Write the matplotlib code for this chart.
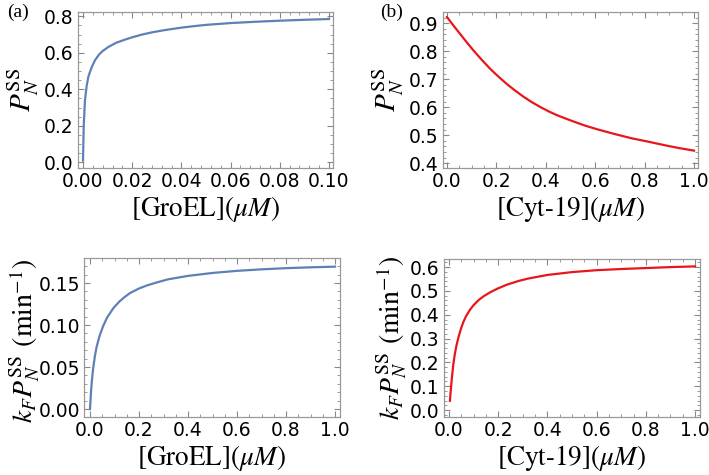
import matplotlib
matplotlib.use("Agg")
import matplotlib.pyplot as plt
from matplotlib.ticker import MultipleLocator, FormatStrFormatter

plt.rcParams['mathtext.fontset'] = 'stix'
plt.rcParams['font.family'] = 'DejaVu Sans'

# (a) top: P_N^SS vs [GroEL]
groel_p_x = [0.0, 0.0003, 0.0008, 0.0015, 0.0022, 0.0035, 0.0049, 0.0065, 0.008, 0.0103,
             0.0135, 0.017, 0.02, 0.024, 0.028, 0.033, 0.04, 0.045, 0.05, 0.06,
             0.07, 0.08, 0.09, 0.1]
groel_p_y = [0.01, 0.2, 0.34, 0.42, 0.47, 0.52, 0.56, 0.59, 0.61, 0.632,
             0.655, 0.672, 0.685, 0.70, 0.712, 0.724, 0.738, 0.746, 0.753, 0.763,
             0.770, 0.776, 0.781, 0.785]

# (b) top: P_N^SS vs [Cyt-19]
cyt_p_x = [0.0, 0.026, 0.053, 0.08, 0.107, 0.14, 0.174, 0.2, 0.242, 0.275, 0.309, 0.34,
           0.377, 0.41, 0.444, 0.5, 0.56, 0.613, 0.68, 0.748, 0.82, 0.883, 0.94, 1.0]
cyt_p_y = [0.922, 0.892, 0.862, 0.832, 0.803, 0.770, 0.738, 0.716, 0.683, 0.660, 0.638, 0.620,
           0.601, 0.586, 0.572, 0.553, 0.534, 0.520, 0.504, 0.489, 0.476, 0.464, 0.454, 0.445]

# (a) bottom: k_F P_N^SS vs [GroEL]
groel_k_x = [0.0, 0.004, 0.008, 0.0136, 0.02, 0.027, 0.04, 0.054, 0.07, 0.095, 0.12, 0.14,
             0.163, 0.2, 0.231, 0.27, 0.32, 0.4, 0.5, 0.6, 0.7, 0.8, 0.9, 1.0]
groel_k_y = [0.0, 0.02, 0.035, 0.05, 0.063, 0.074, 0.088, 0.099, 0.109, 0.12, 0.128, 0.133,
             0.138, 0.1435, 0.147, 0.1505, 0.1545, 0.1585, 0.162, 0.1645, 0.1663, 0.1677,
             0.1687, 0.1695]

# (b) bottom: k_F P_N^SS vs [Cyt-19]
cyt_k_x = [0.004, 0.008, 0.0125, 0.0175, 0.024, 0.031, 0.04, 0.05, 0.058, 0.07, 0.085,
           0.099, 0.12, 0.14, 0.167, 0.2, 0.235, 0.28, 0.322, 0.4, 0.5, 0.6, 0.7, 0.8,
           0.9, 1.0]
cyt_k_y = [0.039, 0.09, 0.14, 0.189, 0.235, 0.273, 0.31, 0.345, 0.368, 0.395, 0.42,
           0.439, 0.461, 0.477, 0.494, 0.511, 0.526, 0.541, 0.552, 0.567, 0.579, 0.587,
           0.592, 0.596, 0.600, 0.603]

blue = '#5E81B5'
red = '#E8161B'
W, H = 709, 475

fig = plt.figure(figsize=(W / 100, H / 100), dpi=100)


def make_ax(x0, y0, x1, y1):
    return fig.add_axes([x0 / W, 1 - y1 / H, (x1 - x0) / W, (y1 - y0) / H])


def style(ax, xmaj, xmin, ymaj, ymin, xfmt, yfmt):
    ax.xaxis.set_major_locator(MultipleLocator(xmaj))
    ax.xaxis.set_minor_locator(MultipleLocator(xmin))
    ax.yaxis.set_major_locator(MultipleLocator(ymaj))
    ax.yaxis.set_minor_locator(MultipleLocator(ymin))
    ax.xaxis.set_major_formatter(FormatStrFormatter(xfmt))
    ax.yaxis.set_major_formatter(FormatStrFormatter(yfmt))
    ax.tick_params(which='both', direction='in', top=True, right=True,
                   color='#888888', labelsize=13.5, labelcolor='black', pad=3)
    ax.tick_params(which='major', length=4, width=0.8)
    ax.tick_params(which='minor', length=2, width=0.6)
    for s in ax.spines.values():
        s.set_color('#999999')
        s.set_linewidth(0.9)


xlab_groel = r'$[\mathrm{GroEL}](\mu M)$'
xlab_cyt = r'$[\mathrm{Cyt\text{-}19}](\mu M)$'
ylab_p = r'$P_N^{\mathrm{SS}}$'
ylab_k = r'$k_F P_N^{\mathrm{SS}}\;\,(\mathrm{min}^{-1})$'
xl_size = 19.5

ax = make_ax(78, 12, 333, 168)
ax.plot(groel_p_x, groel_p_y, color=blue, lw=1.6)
ax.set_xlim(-0.00203, 0.10163)
ax.set_ylim(-0.031, 0.8236)
style(ax, 0.02, 0.004, 0.2, 0.05, '%.2f', '%.1f')
ax.set_xlabel(xlab_groel, fontsize=xl_size, labelpad=2)
ax.set_ylabel(ylab_p, fontsize=21, labelpad=2)

ax = make_ax(443, 12, 698, 168)
ax.plot(cyt_p_x, cyt_p_y, color=red, lw=1.6)
ax.set_xlim(-0.016, 1.016)
ax.set_ylim(0.383, 0.940)
style(ax, 0.2, 0.05, 0.1, 0.02, '%.1f', '%.1f')
ax.set_xlabel(xlab_cyt, fontsize=xl_size, labelpad=2)
ax.set_ylabel(ylab_p, fontsize=21, labelpad=2)

ax = make_ax(84, 258, 340, 417)
ax.plot(groel_k_x, groel_k_y, color=blue, lw=1.6)
ax.set_xlim(-0.0245, 1.0204)
ax.set_ylim(-0.0095, 0.1798)
style(ax, 0.2, 0.05, 0.05, 0.01, '%.1f', '%.2f')
ax.set_xlabel(xlab_groel, fontsize=xl_size, labelpad=2)
ax.set_ylabel(ylab_k, fontsize=20, labelpad=0)
ax.yaxis.set_label_coords(-0.165, 0.48)

ax = make_ax(444, 259, 700, 417)
ax.plot(cyt_k_x, cyt_k_y, color=red, lw=1.6)
ax.set_xlim(-0.020, 1.020)
ax.set_ylim(-0.029, 0.634)
style(ax, 0.2, 0.05, 0.1, 0.02, '%.1f', '%.1f')
ax.set_xlabel(xlab_cyt, fontsize=xl_size, labelpad=2)
ax.set_ylabel(ylab_k, fontsize=20, labelpad=1)

fig.text(7 / W, 1 - 12 / H, '(a)', family='Liberation Serif', fontsize=14, va='center', ha='left')
fig.text(380 / W, 1 - 12 / H, '(b)', family='Liberation Serif', fontsize=14, va='center', ha='left')

fig.savefig('out.png', dpi=100)
